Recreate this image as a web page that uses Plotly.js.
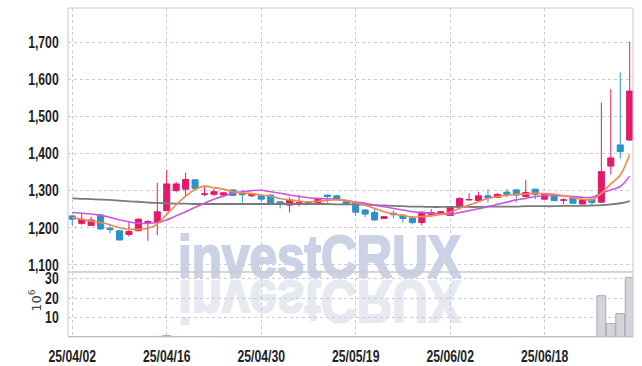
<!DOCTYPE html>
<html>
<head>
<meta charset="utf-8">
<script src="https://cdn.plot.ly/plotly-3.0.1.min.js"></script>
<style>
  html, body { margin:0; padding:0; background:#ffffff; }
  #wrap { position:relative; width:642px; height:366px; overflow:hidden; }
  #wm { position:absolute; left:0; top:0; z-index:0; }
  #chart { position:absolute; left:0; top:0; width:642px; height:366px; z-index:1; }
</style>
</head>
<body>
<div id="wrap">
  <svg id="wm" width="642" height="366" xmlns="http://www.w3.org/2000/svg">
    <text x="178" y="277" textLength="283" lengthAdjust="spacingAndGlyphs"
          font-family="Liberation Sans, Arial, sans-serif" font-weight="bold" font-size="60"
          fill="#ccd2e5" stroke="#ccd2e5" stroke-width="2.2" stroke-linejoin="miter">investCRUX</text>
    <text x="178" y="277" textLength="283" lengthAdjust="spacingAndGlyphs"
          transform="translate(0,558) scale(1,-1)"
          font-family="Liberation Sans, Arial, sans-serif" font-weight="bold" font-size="60"
          fill="#e7e9f1" stroke="#e7e9f1" stroke-width="2.2" stroke-linejoin="miter">investCRUX</text>
  </svg>
  <div id="chart"></div>
</div>
<script>
const dates = ['25/04/02','25/04/03','25/04/04','25/04/07','25/04/08','25/04/09','25/04/10','25/04/11','25/04/14','25/04/15',
  '25/04/16','25/04/17','25/04/18','25/04/21','25/04/22','25/04/23','25/04/24','25/04/25','25/04/28','25/04/29',
  '25/04/30','25/05/02','25/05/07','25/05/08','25/05/09','25/05/12','25/05/13','25/05/14','25/05/15','25/05/16',
  '25/05/19','25/05/20','25/05/21','25/05/22','25/05/23','25/05/26','25/05/27','25/05/28','25/05/29','25/05/30',
  '25/06/02','25/06/04','25/06/05','25/06/09','25/06/10','25/06/11','25/06/12','25/06/13','25/06/16','25/06/17',
  '25/06/18','25/06/19','25/06/20','25/06/23','25/06/24','25/06/25','25/06/26','25/06/27','25/06/30','25/07/01'];

const openP  = [1232,1212,1206,1234,1199,1192,1182,1192,1214,1214, 1246,1300,1304,1329,1290,1290,1288,1302,1293,1286,
                1287,1288,1270,1261,1263,1268,1268,1288,1286,1273, 1268,1248,1241,1225,1239,1234,1226,1214,1235,1239,
                1233,1255,1275,1273,1286,1282,1296,1302,1284,1304, 1277,1284,1274,1280,1264,1277,1269,1366,1423,1436];
const highP  = [1233,1241,1230,1237,1208,1193,1216,1226,1221,1321, 1356,1324,1348,1331,1310,1304,1296,1303,1302,1294,
                1288,1289,1271,1282,1288,1271,1280,1289,1289,1276, 1272,1249,1252,1231,1246,1235,1232,1243,1250,1245,
                1256,1282,1293,1297,1304,1293,1304,1303,1329,1305, 1293,1285,1280,1281,1276,1278,1537,1573,1618,1701];
const lowP   = [1207,1208,1205,1194,1185,1167,1176,1191,1165,1180, 1245,1295,1284,1305,1285,1286,1286,1286,1268,1282,
                1270,1262,1252,1241,1257,1262,1267,1268,1276,1260, 1232,1229,1219,1224,1226,1214,1209,1206,1230,1238,
                1232,1254,1274,1272,1268,1281,1282,1268,1282,1277, 1276,1273,1264,1266,1263,1261,1266,1344,1387,1434];
const closeP = [1223,1223,1221,1197,1195,1167,1190,1223,1217,1243, 1318,1318,1330,1306,1291,1297,1294,1287,1289,1291,
                1277,1263,1263,1275,1268,1266,1277,1284,1277,1263, 1242,1237,1221,1230,1235,1225,1214,1242,1241,1243,
                1255,1279,1276,1286,1280,1290,1290,1288,1295,1290, 1291,1273,1275,1266,1275,1268,1351,1388,1405,1568];

const ma5  = [1228,1223,1218,1214,1208,1200,1196,1196,1199,1210, 1236,1262,1285,1303,1312,1308,1304,1297,1294,1292,
              1288,1285,1279,1275,1272,1270,1271,1274,1275,1273, 1267,1261,1252,1243,1237,1233,1229,1230,1232,1236,
              1242,1252,1261,1270,1279,1284,1287,1290,1291,1293, 1292,1290,1286,1281,1277,1275,1293,1318,1342,1398];
const ma10 = [1241,1239,1237,1234,1228,1221,1216,1212,1212,1214, 1221,1232,1243,1255,1266,1277,1285,1293,1297,1300,
              1301,1297,1293,1288,1284,1281,1279,1278,1276,1273, 1269,1266,1261,1257,1252,1248,1243,1241,1239,1237,
              1236,1241,1246,1251,1257,1263,1269,1275,1279,1284, 1287,1287,1286,1284,1282,1282,1293,1302,1311,1339];
const maLong = [1279,1278,1277,1276,1275,1273,1271,1270,1268,1267, 1266,1265,1265,1264,1264,1264,1264,1264,1264,1264,
              1264,1264,1264,1264,1264,1264,1264,1264,1263,1263, 1263,1262,1261,1260,1259,1258,1257,1257,1256,1256,
              1256,1256,1256,1256,1257,1257,1257,1257,1258,1258, 1258,1258,1259,1259,1259,1260,1261,1263,1266,1272];

const volume = [0.2,0.2,0.2,0.2,0.2,0.2,0.2,0.2,0.2,0.3, 0.7,0.3,0.2,0.2,0.2,0.2,0.1,0.1,0.1,0.1,
                0.1,0.1,0.1,0.1,0.1,0.1,0.1,0.1,0.1,0.1, 0.1,0.1,0.1,0.1,0.1,0.1,0.1,0.1,0.1,0.1,
                0.1,0.1,0.1,0.1,0.1,0.1,0.1,0.2,0.2,0.1, 0.1,0.1,0.1,0.1,0.1,0.1,21.2,6.9,12.0,30.5];

const xTickVals = ['25/04/02','25/04/16','25/04/30','25/05/19','25/06/02','25/06/18'];
const priceTicks = [1100,1200,1300,1400,1500,1600,1700];
const volTicks = [10,20,30];

const tickFont = {family:'Liberation Sans, Arial, sans-serif', size:16.5, color:'#222', weight:'bold'};
const gridCol = '#c6cbdf';

const traces = [
  {type:'bar', x:dates, y:volume, xaxis:'x', yaxis:'y2',
   marker:{color:'#d4d4dd', line:{color:'#a9a9b4', width:1}}, hoverinfo:'skip'},
  {type:'scatter', mode:'lines', x:dates, y:maLong, xaxis:'x', yaxis:'y',
   line:{color:'#7a7a7a', width:1.8, shape:'spline'}, hoverinfo:'skip'},
  {type:'scatter', mode:'lines', x:dates, y:ma10, xaxis:'x', yaxis:'y',
   line:{color:'#cc55e0', width:1.6, shape:'spline'}, hoverinfo:'skip'},
  {type:'scatter', mode:'lines', x:dates, y:ma5, xaxis:'x', yaxis:'y',
   line:{color:'#f08a4b', width:1.6, shape:'spline'}, hoverinfo:'skip'},
  {type:'candlestick', x:dates, open:openP, high:highP, low:lowP, close:closeP, xaxis:'x', yaxis:'y',
   whiskerwidth:0,
   increasing:{line:{color:'#e3196b', width:1}, fillcolor:'#e3196b'},
   decreasing:{line:{color:'#2b93c8', width:1}, fillcolor:'#2b93c8'}}
];

const split = 0.1976;
const layout = {
  width:642, height:366,
  margin:{l:68, r:9, t:8, b:29},
  paper_bgcolor:'rgba(0,0,0,0)', plot_bgcolor:'rgba(0,0,0,0)',
  showlegend:false,
  boxgap:0.2, boxgroupgap:0.2, bargap:0.06,
  xaxis:{type:'category', anchor:'y2', range:[-0.45, 59.35], rangeslider:{visible:false},
    tickmode:'array', tickvals:xTickVals, ticktext:xTickVals,
    showgrid:true, gridcolor:gridCol, griddash:'dot', gridwidth:1,
    ticks:'outside', ticklen:4, tickcolor:'rgba(0,0,0,0)',
    tickfont:tickFont, showline:false, zeroline:false, fixedrange:true},
  yaxis:{domain:[split,1], range:[1081,1791.5], tickmode:'array', tickvals:priceTicks,
    tickformat:',', showgrid:true, gridcolor:gridCol, griddash:'dot', gridwidth:1,
    ticks:'outside', ticklen:5, tickcolor:'rgba(0,0,0,0)',
    tickfont:tickFont, zeroline:false, showline:false},
  yaxis2:{domain:[0,split], range:[0,33.4], tickmode:'array', tickvals:volTicks,
    showgrid:true, gridcolor:gridCol, griddash:'dot', gridwidth:1,
    ticks:'outside', ticklen:5, tickcolor:'rgba(0,0,0,0)',
    tickfont:tickFont, zeroline:false, showline:false},
  annotations:[
    {text:'10<sup>6</sup>', xref:'paper', yref:'paper', x:0, y:0.11, xshift:-33,
     xanchor:'center', yanchor:'middle', textangle:-90, showarrow:false,
     font:{family:'DejaVu Sans, sans-serif', size:13, color:'#444'}}
  ],
  shapes:[
    {type:'rect', xref:'paper', yref:'paper', x0:0, x1:1, y0:split, y1:1, line:{color:'#c9c9c9', width:1}},
    {type:'rect', xref:'paper', yref:'paper', x0:0, x1:1, y0:0, y1:split, line:{color:'#c9c9c9', width:1}}
  ]
};

Plotly.newPlot('chart', traces, layout, {displayModeBar:false, staticPlot:true}).then(function(gd){
  // condense tick labels horizontally to mimic the narrow label face
  gd.querySelectorAll('.xtick text, .ytick text, .y2tick text').forEach(function(t){
    const x = parseFloat(t.getAttribute('x')) || 0;
    const y = parseFloat(t.getAttribute('y')) || 0;
    const tr = t.getAttribute('transform') || '';
    t.setAttribute('transform', tr + ' translate(' + x + ',' + y + ') scale(0.74,1) translate(' + (-x) + ',' + (-y) + ')');
  });
});
</script>
</body>
</html>
